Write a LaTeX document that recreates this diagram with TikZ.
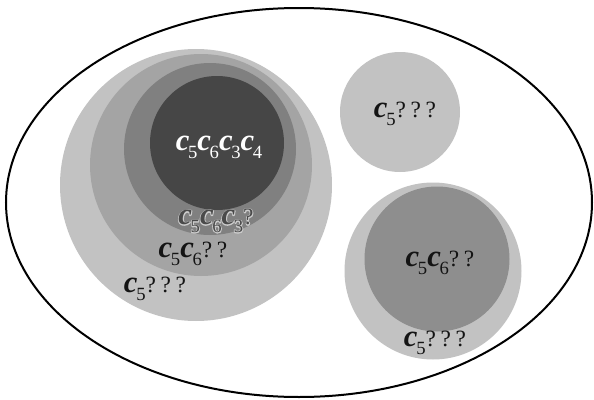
\documentclass[tikz,border=0pt]{standalone}
\usepackage{fontspec}
\usetikzlibrary{shapes.geometric}
\setmainfont{Liberation Serif}
% labels: bold italic c with a lowered index, upright question marks
\newcommand{\cv}[1]{{\fontsize{23}{23}\selectfont\bfseries\itshape c}\kern-1pt\raisebox{-6pt}{\fontsize{14}{14}\selectfont #1}}
\newcommand{\qm}{{\fontsize{17.5}{17.5}\selectfont ?}}
\newcommand{\qsp}{\hspace{3.5pt}}
% outlined lettering (stroke only) for the halo behind a label
\newcommand{\outlined}[1]{\special{pdf:literal direct 1 Tr 1.3 w 1 J 1 j 0.80 G}#1\special{pdf:literal direct 0 Tr}}
\definecolor{gLight}{HTML}{C2C2C2}
\definecolor{gMid}{HTML}{A4A4A4}
\definecolor{gDark}{HTML}{808080}
\definecolor{gDeep}{HTML}{464646}
\definecolor{gRight}{HTML}{8E8E8E}
\definecolor{gText}{HTML}{4A4A4A}
\tikzset{
  blob/.style={circle,inner sep=0pt,draw=none},
  lbl/.style={inner sep=0pt,text=black!92},
}
\begin{document}
\begin{tikzpicture}[x=0.75pt,y=-0.75pt]
\useasboundingbox (0,0) rectangle (594,400);
\fill[white] (0,0) rectangle (594,400);
% universe
\node[ellipse,draw=black,line width=1.5pt,minimum width=586*0.75pt,minimum height=389*0.75pt,inner sep=0pt] (U) at (299,202.5) {};
% nested group on the left
\node[blob,fill=gLight,minimum size=272*0.75pt] (L1) at (196,185) {};
\node[blob,fill=gMid,minimum size=222*0.75pt] (L2) at (201,165) {};
\node[blob,fill=gDark,minimum size=172*0.75pt] (L3) at (210,149) {};
\node[blob,fill=gDeep,minimum size=134*0.75pt] (L4) at (217,143) {};
% single set at top right
\node[blob,fill=gLight,minimum size=120*0.75pt] (R1) at (400,112) {};
% pair at bottom right
\node[blob,fill=gLight,minimum size=177*0.75pt] (B1) at (433,271) {};
\node[blob,fill=gRight,minimum size=145*0.75pt] (B2) at (437,259) {};
% labels
\node[lbl,text=white] (t4) at (219,147) {\cv{5}\cv{6}\cv{3}\cv{4}};
\node[lbl,text=gText] (t3h) at (216,221) {\outlined{\cv{5}\cv{6}\cv{3}\qm}};
\node[lbl,text=gText] (t3) at (216,221) {\cv{5}\cv{6}\cv{3}\qm};
\node[lbl] (t2) at (193,254) {\cv{5}\cv{6}\qm\qsp\qm};
\node[lbl] (t1) at (155,289) {\cv{5}\qm\qsp\qm\qsp\qm};
\node[lbl] (r1) at (405,114) {\cv{5}\qm\qsp\qm\qsp\qm};
\node[lbl] (b2) at (440,263) {\cv{5}\cv{6}\qm\qsp\qm};
\node[lbl] (b1) at (435,343) {\cv{5}\qm\qsp\qm\qsp\qm};
\end{tikzpicture}
\end{document}
